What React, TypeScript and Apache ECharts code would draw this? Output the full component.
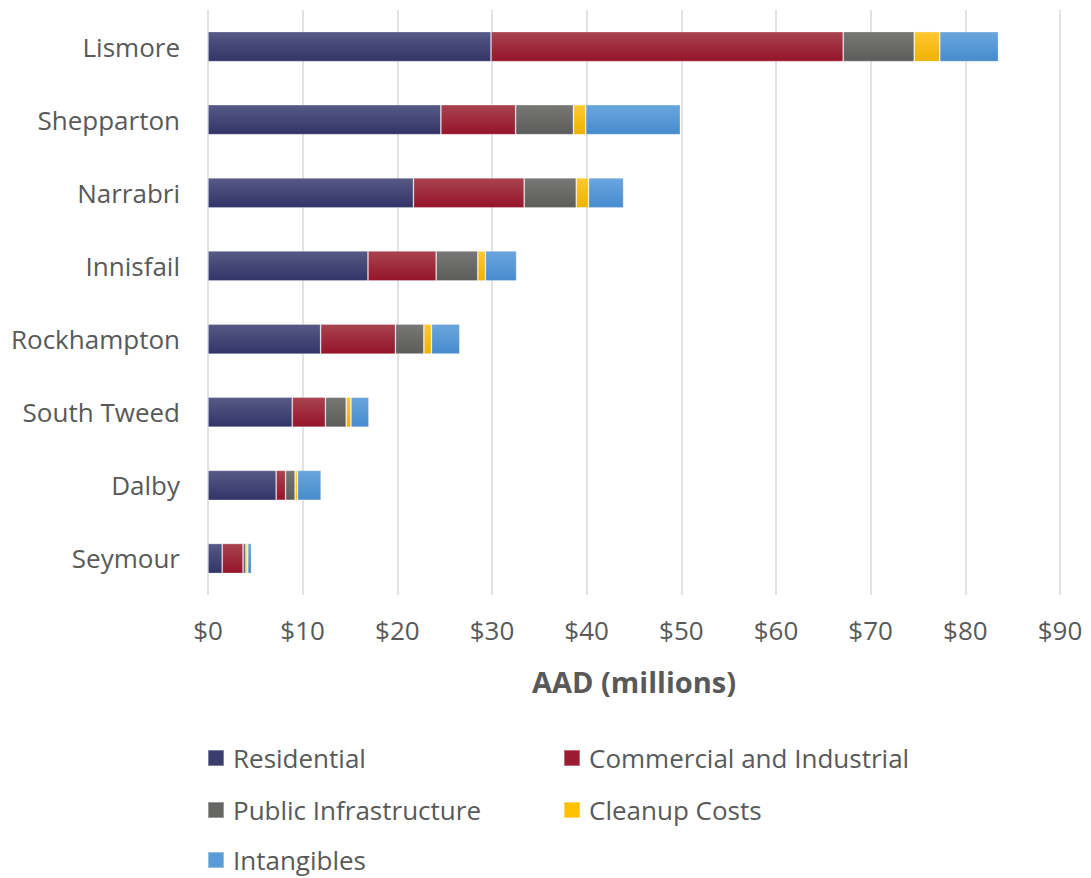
import React, { useEffect, useRef } from "react";
import * as echarts from "echarts";

const categories = ["Lismore", "Shepparton", "Narrabri", "Innisfail", "Rockhampton", "South Tweed", "Dalby", "Seymour"];
const residential = [29.9, 24.6, 21.7, 16.9, 11.9, 8.9, 7.2, 1.5];
const commercial = [37.2, 7.9, 11.7, 7.2, 7.9, 3.5, 1.0, 2.2];
const publicInfra = [7.5, 6.1, 5.5, 4.4, 3.0, 2.2, 1.0, 0.3];
const cleanup = [2.7, 1.3, 1.3, 0.8, 0.8, 0.5, 0.25, 0.2];
const intangibles = [6.2, 10.0, 3.7, 3.3, 3.0, 1.9, 2.5, 0.4];
const xTicks = [0, 10, 20, 30, 40, 50, 60, 70, 80, 90];

const FONT = "'Open Sans', 'Noto Sans', sans-serif";
const TEXT = "#595959";

function grad(top: string, bottom: string) {
  return new echarts.graphic.LinearGradient(0, 0, 0, 1, [
    { offset: 0, color: top },
    { offset: 1, color: bottom },
  ]);
}

const seriesDefs = [
  { name: "Residential", data: residential, top: "#575a85", bottom: "#323468", solid: "#3b3c6e" },
  { name: "Commercial and Industrial", data: commercial, top: "#a9434f", bottom: "#95142a", solid: "#9b1b30" },
  { name: "Public Infrastructure", data: publicInfra, top: "#777775", bottom: "#5c5c5a", solid: "#666664" },
  { name: "Cleanup Costs", data: cleanup, top: "#ffc830", bottom: "#eeb200", solid: "#ffc000" },
  { name: "Intangibles", data: intangibles, top: "#6aa6dd", bottom: "#468bce", solid: "#5b9bd5" },
];

const legendPos = [
  { left: 207, top: 745 },
  { left: 563, top: 745 },
  { left: 207, top: 797 },
  { left: 563, top: 797 },
  { left: 207, top: 847 },
];

export default function App() {
  const ref = useRef<HTMLDivElement>(null);
  useEffect(() => {
    if (!ref.current) return;
    const chart = echarts.init(ref.current, undefined, { renderer: "svg" });
    chart.setOption({
      animation: false,
      backgroundColor: "#ffffff",
      textStyle: { fontFamily: FONT },
      grid: { left: 208, right: 31, top: 10, height: 585, containLabel: false },
      xAxis: {
        type: "value",
        min: 0,
        max: 90,
        interval: 10,
        axisLine: { show: false },
        axisTick: { show: false },
        splitLine: { show: true, lineStyle: { color: "#d9d9d9", width: 1.5 } },
        axisLabel: {
          color: TEXT,
          fontSize: 26,
          fontFamily: FONT,
          margin: 22,
          formatter: (v: number) => (xTicks.includes(v) ? "$" + v : ""),
        },
        name: "AAD (millions)",
        nameLocation: "middle",
        nameGap: 72,
        nameTextStyle: { color: TEXT, fontSize: 29, fontWeight: "bold", fontFamily: FONT },
      },
      yAxis: {
        type: "category",
        inverse: true,
        data: categories,
        axisLine: { show: false },
        axisTick: { show: false },
        axisLabel: { color: TEXT, fontSize: 26, fontFamily: FONT, margin: 28 },
      },
      legend: seriesDefs.map((s, i) => ({
        data: [{ name: s.name, itemStyle: { color: s.solid } }],
        left: legendPos[i].left,
        top: legendPos[i].top,
        padding: 0,
        orient: "horizontal",
        icon: "rect",
        itemWidth: 16,
        itemHeight: 16,
        selectedMode: false,
        textStyle: { color: TEXT, fontSize: 26, fontFamily: FONT, padding: [0, 0, 0, 4] },
      })),
      series: seriesDefs.map((s) => ({
        name: s.name,
        type: "bar",
        stack: "total",
        barWidth: 30,
        data: s.data,
        itemStyle: { color: grad(s.top, s.bottom), borderColor: "rgba(255,255,255,0.35)", borderWidth: 0.8 },
      })),
    });
    return () => chart.dispose();
  }, []);
  return <div ref={ref} style={{ width: 1091, height: 878, position: "absolute", left: 0, top: 0 }} />;
}
